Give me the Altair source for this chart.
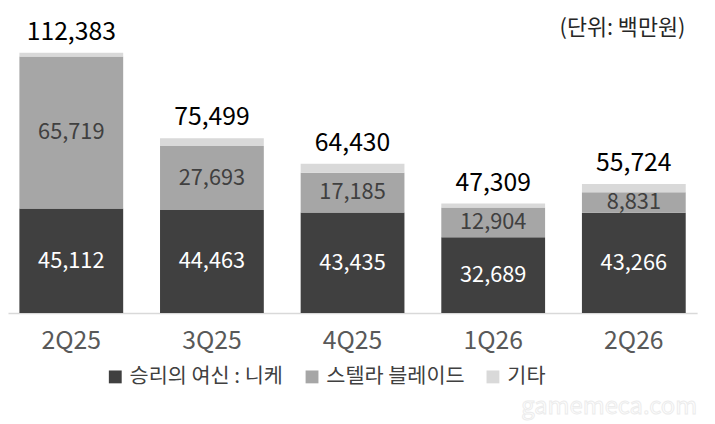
import altair as alt
import pandas as pd

quarters = ["2Q25", "3Q25", "4Q25", "1Q26", "2Q26"]
series_names = ["승리의 여신 : 니케", "스텔라 블레이드", "기타"]
nikke = [45112, 44463, 43435, 32689, 43266]
stellar = [65719, 27693, 17185, 12904, 8831]
other = [1552, 3343, 3810, 1716, 3627]
totals = [112383, 75499, 64430, 47309, 55724]

rows = []
for i, q in enumerate(quarters):
    for k, (name, vals) in enumerate(zip(series_names, [nikke, stellar, other])):
        rows.append({"quarter": q, "series": name, "idx": k, "value": vals[i]})
df = pd.DataFrame(rows)
tot_df = pd.DataFrame({"quarter": quarters, "total": totals})

FONT = "Noto Sans CJK KR"
colors = ["#404040", "#a6a6a6", "#d9d9d9"]

x_enc = alt.X(
    "quarter:N", sort=quarters, title=None,
    scale=alt.Scale(paddingInner=0.262, paddingOuter=0.081),
    axis=alt.Axis(labelAngle=0, labelFontSize=25, labelColor="#595959", labelFont=FONT,
                  ticks=False, domainColor="#d9d9d9", domainWidth=1.5, labelPadding=16, grid=False),
)
y_scale = alt.Scale(domain=[0, 130760])

bars = alt.Chart(df).mark_bar().encode(
    x=x_enc,
    y=alt.Y("value:Q", stack="zero", scale=y_scale, axis=None),
    color=alt.Color(
        "series:N", sort=series_names,
        scale=alt.Scale(domain=series_names, range=colors),
        legend=alt.Legend(
            title=None, orient="none", direction="horizontal", legendX=98, legendY=360,
            symbolType="square", symbolSize=169, symbolStrokeWidth=0, labelFontSize=21,
            labelColor="#404040", labelFont=FONT, columnPadding=18, labelOffset=4, padding=0,
            labelLimit=400,
        ),
    ),
    order=alt.Order("idx:Q", sort="ascending"),
)

seg_text = alt.Chart(df).transform_stack(
    stack="value", groupby=["quarter"], as_=["y0", "y1"],
    sort=[alt.SortField("idx", order="ascending")],
).transform_calculate(
    mid="(datum.y0 + datum.y1) / 2"
).transform_filter(
    "datum.idx < 2"
).mark_text(font=FONT, fontSize=22, baseline="middle").encode(
    x=alt.X("quarter:N", sort=quarters),
    y=alt.Y("mid:Q", scale=y_scale),
    text=alt.Text("value:Q", format=","),
    color=alt.condition("datum.idx == 0", alt.value("#ffffff"), alt.value("#404040")),
)

tot_text = alt.Chart(tot_df).mark_text(
    font=FONT, fontSize=25, baseline="alphabetic", dy=-13, color="#000000"
).encode(
    x=alt.X("quarter:N", sort=quarters),
    y=alt.Y("total:Q", scale=y_scale),
    text=alt.Text("total:Q", format=","),
)

unit_text = alt.Chart(pd.DataFrame({"t": ["(단위: 백만원)"]})).mark_text(
    font=FONT, fontSize=22, align="right", baseline="alphabetic", color="#262626"
).encode(x=alt.value(685), y=alt.value(25), text="t:N")

wm_text = alt.Chart(pd.DataFrame({"t": ["gamemeca.com"]})).mark_text(
    font=FONT, fontSize=24, align="right", baseline="alphabetic", color="#ffffff",
    stroke="#ececec", strokeWidth=1
).encode(x=alt.value(697), y=alt.value(408), text="t:N")

chart = alt.layer(bars, seg_text, tot_text, unit_text, wm_text).resolve_scale(
    color="independent"
).properties(
    width=697, height=306,
    autosize=alt.AutoSizeParams(type="none"),
    padding={"left": 0, "top": 0, "right": 10, "bottom": 110},
).configure(background="#ffffff").configure_view(stroke=None, strokeWidth=0)

chart.save("out.html", embed_options={"renderer": "svg", "actions": False})
